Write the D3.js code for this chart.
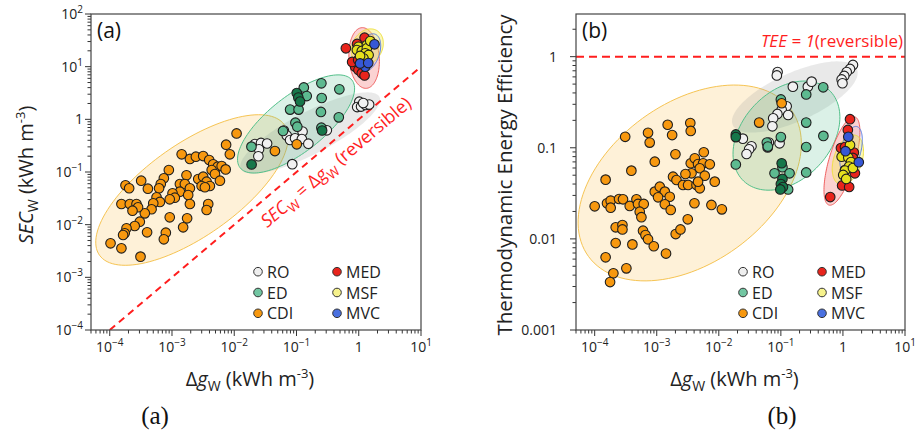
<!DOCTYPE html>
<html>
<head>
<meta charset="utf-8">
<script src="https://cdn.jsdelivr.net/npm/d3@7"></script>
<style>
  body { margin: 0; background: #fff; }
  svg { display: block; }
  text { font-family: "Open Sans", "Noto Sans", sans-serif; }
</style>
</head>
<body>
<svg id="chart" width="915" height="437"></svg>
<script>
// ---- data: [delta g_W (kWh m-3), value] ----
// panel (a): value = SEC_W (kWh m-3)
const cdiA = [[1.09e-2,0.54],[7.4e-3,0.33],[8.5e-3,0.217],[1.43e-3,0.217],[1.94e-3,0.177],[2.42e-3,0.195],[3.17e-3,0.201],[3.96e-3,0.169],[4.59e-3,0.14],[5.41e-3,0.126],[6.28e-3,0.13],[7.28e-3,0.112],[4.34e-3,0.109],[4.9e-3,0.0917],[5.89e-3,0.0684],[8.9e-4,0.109],[1.71e-3,0.0867],[7.4e-4,0.076],[6.6e-4,0.0592],[6.2e-4,0.0491],[3.2e-4,0.0684],[4.1e-4,0.0482],[1.79e-4,0.056],[2.05e-4,0.0491],[1.34e-3,0.0592],[1.61e-3,0.0592],[1.94e-3,0.0491],[2.64e-3,0.0736],[3.17e-3,0.0815],[3.6e-3,0.0655],[2.99e-3,0.0542],[4.06e-3,0.0542],[3.38e-3,0.0513],[1.34e-3,0.0423],[1.02e-3,0.0394],[1.11e-3,0.0325],[9.2e-4,0.0303],[1.82e-3,0.0366],[5.65e-4,0.0331],[6.4e-4,0.027],[5.0e-4,0.0255],[4.7e-4,0.0196],[3.66e-4,0.0164],[1.94e-3,0.0247],[3.82e-3,0.0247],[3.6e-3,0.019],[1.54e-4,0.0247],[2.1e-4,0.0247],[2.69e-4,0.0247],[2.85e-4,0.0214],[2.32e-4,0.0184],[3.04e-4,0.0114],[2.52e-4,0.00944],[1.86e-4,0.00853],[1.74e-4,0.00686],[1.64e-4,0.00637],[9.2e-4,0.0138],[1.75e-3,0.0132],[1.51e-3,0.0089],[3.98e-4,0.00716],[7.96e-4,0.00705],[7.4e-4,0.00527],[1.03e-4,0.00443],[1.54e-4,0.00356],[3.12e-4,0.00247],[4.5e-2,0.25],[0.101,0.336]];
const edA = [[0.131,4.03],[0.251,4.83],[0.488,3.72],[0.146,2.77],[0.254,2.54],[0.0789,1.53],[0.108,1.53],[0.247,1.38],[0.478,1.09],[0.096,0.863],[0.103,0.724],[0.251,0.694],[0.0608,0.601],[0.0189,0.303]];
const edDarkA = [[0.101,3.16],[0.107,2.6],[0.114,2.18],[0.258,0.614],[0.019,0.139]];
const roA = [[0.0215,0.34],[0.0269,0.356],[0.0337,0.348],[0.025,0.27],[0.0244,0.199],[0.0627,0.614],[0.0698,0.493],[0.0789,0.405],[0.0948,0.436],[0.125,0.587],[0.122,0.423],[0.155,0.345],[0.307,0.619],[0.0855,0.141],[1.02,2.16],[0.944,1.71],[1.09,1.75],[1.29,1.87],[1.47,1.91],[1.18,2.04]];
const medA = [[0.621,22.3],[0.877,10],[0.99,8.65],[1.12,7.48],[1.24,6.8],[0.783,12.3],[0.98,13.4],[1.24,35.5],[0.94,27]];
const msfA = [[0.99,23.9],[1.35,25.8],[0.933,20.7],[1.12,19.9],[1.35,22.3],[1.27,17.9],[1.44,16.7],[1.19,14.4],[1.05,16],[1.53,30.7]];
const mvcA = [[1.27,10],[1.05,11.5],[1.79,26.6],[1.42,11.7]];

// panel (b): value = thermodynamic energy efficiency
const cdiB = [[3.1e-4,0.132],[7.24e-4,0.146],[7.7e-4,0.114],[1.5e-3,0.179],[1.77e-3,0.138],[3.47e-3,0.187],[3.53e-3,0.153],[5.73e-3,0.0893],[2.0e-3,0.0849],[9.3e-4,0.0704],[3.9e-4,0.0561],[1.5e-4,0.0447],[3.53e-3,0.0676],[4.1e-3,0.0767],[4.63e-3,0.0664],[5.58e-3,0.0676],[4.94e-3,0.0596],[7.16e-3,0.0659],[5.94e-3,0.0494],[3.63e-3,0.0525],[2.9e-3,0.0515],[1.83e-3,0.0482],[2.08e-3,0.0443],[2.65e-3,0.0391],[3.2e-3,0.0391],[4.37e-3,0.0391],[4.94e-3,0.0359],[4.63e-3,0.0425],[8.6e-3,0.0425],[9.3e-4,0.033],[1.12e-3,0.0374],[1.35e-3,0.033],[1.05e-3,0.0286],[1.62e-3,0.029],[1.35e-3,0.024],[1.68e-3,0.0208],[4.05e-3,0.0246],[7.6e-3,0.0236],[1.12e-2,0.0211],[1.0e-4,0.0228],[1.58e-4,0.0246],[1.81e-4,0.0263],[1.81e-4,0.022],[2.47e-4,0.0274],[2.86e-4,0.0272],[3.67e-4,0.023],[4.71e-4,0.0272],[4.99e-4,0.0242],[6.17e-4,0.0242],[5.32e-4,0.0199],[5.66e-4,0.0173],[2.18e-4,0.0134],[2.8e-4,0.0142],[2.8e-4,0.0127],[6.01e-4,0.0123],[6.58e-4,0.011],[7.24e-4,0.0099],[8.96e-4,0.0083],[2.02e-3,0.0113],[2.41e-3,0.0127],[3.16e-3,0.0164],[2.18e-4,0.009],[4.05e-4,0.0087],[1.41e-3,0.0069],[1.5e-4,0.00628],[2.0e-4,0.00419],[1.77e-4,0.00336],[3.24e-4,0.00475],[0.103,0.308],[4.47e-2,0.189]];
const edB = [[0.256,0.385],[0.481,0.461],[0.1,0.339],[0.0594,0.114],[0.0617,0.103],[0.1,0.131],[0.256,0.189],[0.484,0.135],[0.256,0.102],[0.0188,0.0656],[0.106,0.0611],[0.079,0.0525],[0.138,0.0525],[0.256,0.0536],[0.131,0.0349]];
const edDarkB = [[0.0188,0.14],[0.0188,0.131],[0.103,0.0676],[0.106,0.0455],[0.1,0.04],[0.108,0.0371],[0.098,0.0349]];
const roB = [[0.0885,0.679],[0.0861,0.622],[0.156,0.469],[0.272,0.469],[0.313,0.532],[1.45,0.811],[1.3,0.733],[1.15,0.679],[1.05,0.614],[0.953,0.562],[0.982,0.511],[0.124,0.285],[0.103,0.262],[0.0879,0.235],[0.0752,0.211],[0.073,0.172],[0.131,0.229],[0.0244,0.126],[0.0336,0.104],[0.0308,0.0963],[0.028,0.0855],[0.064,0.114],[0.0953,0.112],[0.0613,0.101]];
const medB = [[1.3,0.206],[1.2,0.157],[0.929,0.0995],[1.5,0.0888],[1.08,0.102],[1.56,0.0525],[1.08,0.057],[0.97,0.0386],[1.26,0.0371],[0.624,0.0288],[1.45,0.0773]];
const msfB = [[0.953,0.0798],[1.22,0.0783],[1.35,0.0698],[1.25,0.0623],[1.08,0.0563],[1.01,0.0503],[1.13,0.0455],[1.3,0.107],[1.45,0.06]];
const mvcB = [[1.22,0.132],[1.1,0.0918],[1.8,0.0695]];

// shaded regions: [centre, end of one semi-axis, end of the other semi-axis], in data units
const ellA = {
  CDI: [[2.09e-3,4.55e-2],[6.38e-2,0.787],[7.8e-4,0.236]],
  RO:  [[0.166,0.551],[2.15,2.67],[0.237,0.244]],
  ED:  [[9.84e-2,0.817],[0.778,5.56],[0.187,0.312]],
  MED: [[1.22,14.6],[1.12,55],[2.13,15.4]],
  MSF: [[1.37,23.6],[1.95,48.6],[2.21,17]],
  MVC: [[1.42,18.2],[1.84,41.3],[2.08,15.3]]
};
const ellB = {
  CDI: [[3.4e-3,0.0411],[0.145,0.264],[1.96e-2,8.03e-3]],
  RO:  [[0.168,0.361],[1.68,0.733],[0.243,0.207]],
  ED:  [[0.123,0.136],[0.601,0.429],[0.404,0.0634]],
  MED: [[0.964,0.0716],[1.56,0.218],[1.53,0.0652]],
  MSF: [[1.2,0.0735],[1.61,0.137],[1.98,0.0661]],
  MVC: [[1.35,0.0946],[1.68,0.171],[1.93,0.0887]]
};

const legendNames = ["RO", "ED", "CDI", "MED", "MSF", "MVC"];
const xTicksMajor = [1e-4, 1e-3, 1e-2, 1e-1, 1, 10];
const yTicksA = [1e-4, 1e-3, 1e-2, 1e-1, 1, 10, 100];
const yTicksB = [0.001, 0.01, 0.1, 1];

// ---- styles ----
const pointFill = { RO: "#f1f1f1", ED: "#5dba90", EDdark: "#16774a", CDI: "#f7980f",
                    MED: "#e8241c", MSF: "#e6e01e", MVC: "#3657d6" };
const legendFill = { RO: "#eeeeee", ED: "#72c6a2", CDI: "#f7980f", MED: "#e8241c", MSF: "#f6f28c", MVC: "#4a70e0" };
const ellStyle = {
  CDI: { fill: "#f8b73d", op: 0.2, stroke: "#f6c453" },
  RO:  { fill: "#9a9a9a", op: 0.22, stroke: "none" },
  ED:  { fill: "#4dbb85", op: 0.2, stroke: "#52c08a" },
  MED: { fill: "#f04a4a", op: 0.25, stroke: "#f06060" },
  MSF: { fill: "#f5ee50", op: 0.4, stroke: "#efe040" },
  MVC: { fill: "#5078e0", op: 0.06, stroke: "#5a7ce0" }
};
const red = "#ff1e1e";

const svg = d3.select("#chart");
const plotTop = 14, plotBottom = 330;

function isPow(v) {
  const l = Math.log10(v);
  return Math.abs(l - Math.round(l)) < 1e-6;
}

function powLabel(sel, v) {
  const e = Math.round(Math.log10(v));
  if (e === 0) { sel.text("1"); return; }
  sel.text("10");
  sel.append("tspan").attr("dy", -6).attr("font-size", 10)
    .text(e < 0 ? "\u2212" + (-e) : e);
}

function ellipsePath(x, y, e) {
  const [c, a, b] = e.map(p => p.map(Math.log10));
  const pts = d3.range(0, 2 * Math.PI, Math.PI / 60).map(t => [
    x(Math.pow(10, c[0] + (a[0] - c[0]) * Math.cos(t) + (b[0] - c[0]) * Math.sin(t))),
    y(Math.pow(10, c[1] + (a[1] - c[1]) * Math.cos(t) + (b[1] - c[1]) * Math.sin(t)))
  ]);
  return d3.line().curve(d3.curveLinearClosed)(pts);
}

function drawPanel(p) {
  const g = svg.append("g");
  const x = d3.scaleLog().domain([5e-5, 10]).range([p.left, p.right]);
  const y = d3.scaleLog().domain(p.yDomain).range([plotBottom, plotTop]);
  const clipId = "clip" + p.name;

  g.append("clipPath").attr("id", clipId).append("rect")
    .attr("x", p.left).attr("y", plotTop).attr("width", p.right - p.left).attr("height", plotBottom - plotTop);

  // ticks (outward, left and bottom)
  const ax = g.append("g").attr("stroke", "#333").attr("stroke-width", 1);
  x.ticks().filter(v => v >= 5e-5 && v <= 10).forEach(v => {
    const len = isPow(v) ? 6 : 3.5;
    ax.append("line").attr("x1", x(v)).attr("x2", x(v)).attr("y1", plotBottom).attr("y2", plotBottom + len);
  });
  y.ticks().filter(v => v >= p.yDomain[0] && v <= p.yDomain[1]).forEach(v => {
    const len = isPow(v) ? 6 : 3.5;
    ax.append("line").attr("y1", y(v)).attr("y2", y(v)).attr("x1", p.left).attr("x2", p.left - len);
  });

  xTicksMajor.forEach(v => {
    g.append("text").attr("x", x(v)).attr("y", plotBottom + 22).attr("text-anchor", "middle")
      .attr("font-size", 14).attr("fill", "#222").call(powLabel, v);
  });
  p.yTicks.forEach(v => {
    const t = g.append("text").attr("x", p.left - p.yLabelGap).attr("y", y(v) + 5)
      .attr("text-anchor", "end").attr("font-size", 14).attr("fill", "#222");
    if (p.decimalY) t.text(String(v)); else t.call(powLabel, v);
  });

  // shaded regions
  const eg = g.append("g").attr("clip-path", `url(#${clipId})`);
  const drawEll = k => eg.append("path").attr("d", ellipsePath(x, y, p.ell[k]))
    .attr("fill", ellStyle[k].fill).attr("fill-opacity", ellStyle[k].op)
    .attr("stroke", ellStyle[k].stroke).attr("stroke-width", 1);
  ["CDI", "RO", "ED"].forEach(drawEll);

  // reference line
  p.refLine(g, x, y, clipId);

  const pts = g.append("g");
  const dots = (data, color) => pts.append("g").selectAll("circle").data(data).join("circle")
    .attr("cx", d => x(d[0])).attr("cy", d => y(d[1])).attr("r", 4.8)
    .attr("fill", color).attr("stroke", "#1e1e1e").attr("stroke-width", 1.1);

  dots(p.series.RO, pointFill.RO);
  dots(p.series.ED, pointFill.ED);
  dots(p.series.EDdark, pointFill.EDdark);
  dots(p.series.CDI, pointFill.CDI);
  ["MED", "MSF", "MVC"].forEach(k => {
    pts.append("path").attr("d", ellipsePath(x, y, p.ell[k]))
      .attr("fill", ellStyle[k].fill).attr("fill-opacity", ellStyle[k].op)
      .attr("stroke", ellStyle[k].stroke).attr("stroke-width", 1);
  });
  dots(p.series.MED, pointFill.MED);
  dots(p.series.MSF, pointFill.MSF);
  dots(p.series.MVC, pointFill.MVC);

  // frame
  g.append("rect").attr("x", p.left).attr("y", plotTop).attr("width", p.right - p.left)
    .attr("height", plotBottom - plotTop).attr("fill", "none").attr("stroke", "#444").attr("stroke-width", 1.2);

  // panel tag
  g.append("text").attr("x", p.left + 6).attr("y", plotTop + 24).attr("font-size", 21)
    .attr("fill", "#111").text(`(${p.name})`);

  // legend
  const lg = g.append("g").attr("font-size", 16).attr("fill", "#222");
  legendNames.forEach((n, i) => {
    const cx = p.left + (i < 3 ? 167 : 246);
    const cy = 271.7 + (i % 3) * 20.8;
    lg.append("circle").attr("cx", cx).attr("cy", cy).attr("r", 4.3)
      .attr("fill", legendFill[n]).attr("stroke", "#333").attr("stroke-width", 1);
    lg.append("text").attr("x", cx + 9).attr("y", cy + 6).text(n);
  });

  // x title
  const xt = g.append("text").attr("x", (p.left + p.right) / 2 - 6).attr("y", 386)
    .attr("text-anchor", "middle").attr("font-size", 20).attr("fill", "#222");
  xt.append("tspan").text("\u0394");
  xt.append("tspan").attr("font-style", "italic").text("g");
  xt.append("tspan").attr("font-size", 14).attr("dy", 5).text("W");
  xt.append("tspan").attr("dy", -5).text(" (kWh m");
  xt.append("tspan").attr("font-size", 13).attr("dy", -8).text("-3");
  xt.append("tspan").attr("dy", 8).text(")");

  // caption below
  g.append("text").attr("x", p.captionX).attr("y", 424).attr("text-anchor", "middle")
    .style("font-family", '"Liberation Serif", "Times New Roman", serif')
    .attr("font-size", 25).attr("fill", "#111").text(`(${p.name})`);

  return { g, x, y };
}

// ---- panel (a) ----
drawPanel({
  name: "a", left: 91, right: 421, yDomain: [1e-4, 100], yTicks: yTicksA, yLabelGap: 8,
  decimalY: false, captionX: 155, ell: ellA,
  series: { RO: roA, ED: edA, EDdark: edDarkA, CDI: cdiA, MED: medA, MSF: msfA, MVC: mvcA },
  refLine: (g, x, y, clipId) => {
    const lo = 1e-4, hi = 10;
    g.append("line").attr("clip-path", `url(#${clipId})`)
      .attr("x1", x(lo)).attr("y1", y(lo)).attr("x2", x(hi)).attr("y2", y(hi))
      .attr("stroke", red).attr("stroke-width", 2).attr("stroke-dasharray", "7,5");
    const ang = Math.atan2(y(hi) - y(lo), x(hi) - x(lo)) * 180 / Math.PI;
    const m = 0.28;
    const t = g.append("text").attr("transform", `translate(${x(m)},${y(m)}) rotate(${ang})`)
      .attr("x", 0).attr("y", 24).attr("text-anchor", "middle").attr("font-size", 18).attr("fill", red);
    t.append("tspan").attr("font-style", "italic").text("SEC");
    t.append("tspan").attr("font-size", 13).attr("dy", 5).text("W");
    t.append("tspan").attr("dy", -5).text(" = \u0394");
    t.append("tspan").attr("font-style", "italic").text("g");
    t.append("tspan").attr("font-size", 13).attr("dy", 5).text("W");
    t.append("tspan").attr("dy", -5).text(" (reversible)");
  }
});

// y title (a)
const yta = svg.append("text").attr("transform", "translate(33,175) rotate(-90)")
  .attr("text-anchor", "middle").attr("font-size", 20).attr("fill", "#222");
yta.append("tspan").attr("font-style", "italic").text("SEC");
yta.append("tspan").attr("font-size", 14).attr("dy", 5).text("W");
yta.append("tspan").attr("dy", -5).text(" (kWh m");
yta.append("tspan").attr("font-size", 13).attr("dy", -8).text("-3");
yta.append("tspan").attr("dy", 8).text(")");

// ---- panel (b) ----
drawPanel({
  name: "b", left: 576, right: 905, yDomain: [1e-3, 2.94], yTicks: yTicksB, yLabelGap: 19,
  decimalY: true, captionX: 782, ell: ellB,
  series: { RO: roB, ED: edB, EDdark: edDarkB, CDI: cdiB, MED: medB, MSF: msfB, MVC: mvcB },
  refLine: (g, x, y) => {
    g.append("line").attr("x1", x.range()[0]).attr("x2", x.range()[1]).attr("y1", y(1)).attr("y2", y(1))
      .attr("stroke", red).attr("stroke-width", 2).attr("stroke-dasharray", "8,5");
    const t = g.append("text").attr("x", x.range()[1] - 2).attr("y", y(1) - 10)
      .attr("text-anchor", "end").attr("font-size", 17).attr("fill", red);
    t.append("tspan").attr("font-style", "italic").text("TEE = 1");
    t.append("tspan").text("(reversible)");
  }
});

svg.append("text").attr("transform", "translate(512,175) rotate(-90)")
  .attr("text-anchor", "middle").attr("font-size", 20.5).attr("fill", "#222")
  .text("Thermodynamic Energy Efficiency");
</script>
</body>
</html>
